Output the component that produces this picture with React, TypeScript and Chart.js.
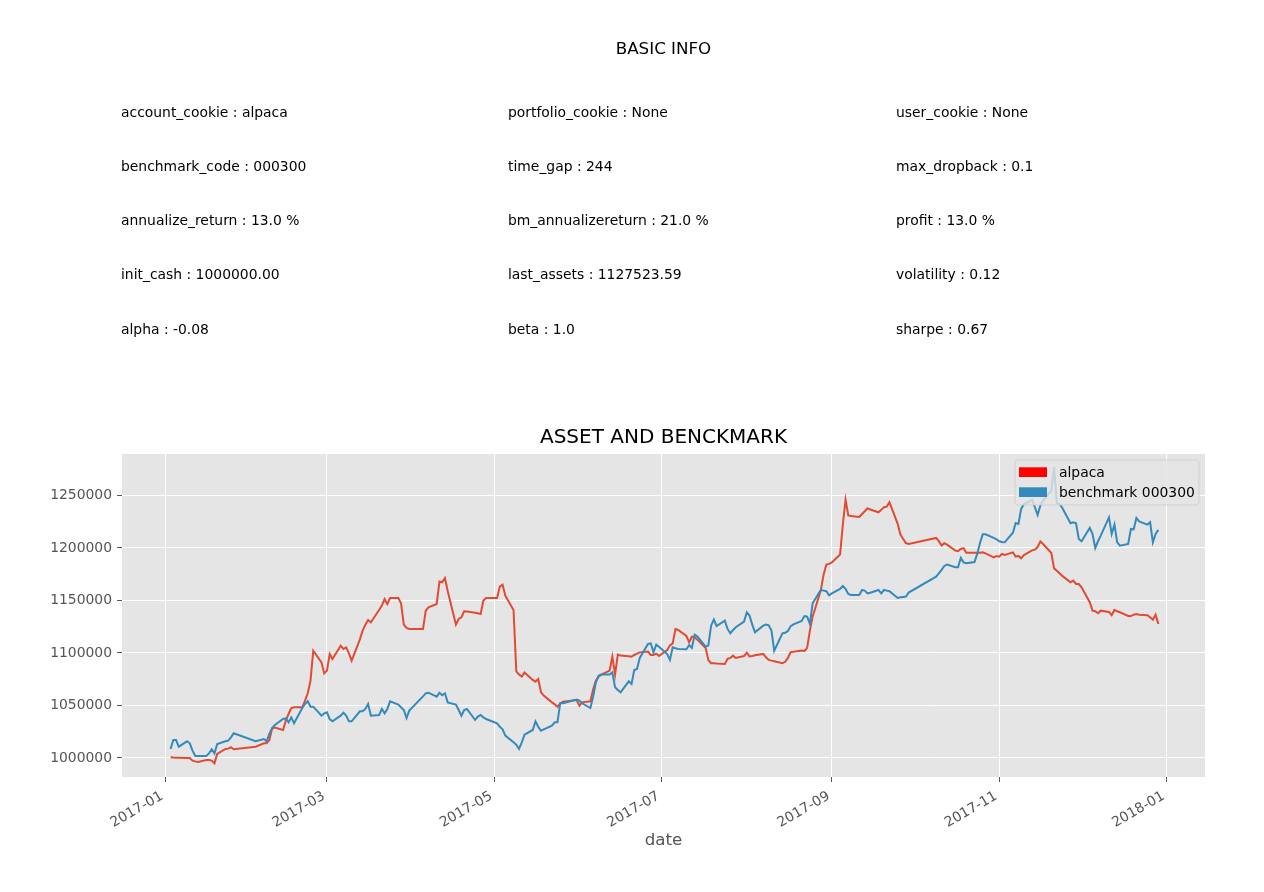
import React, { useEffect, useRef } from 'react';
import { Chart, registerables } from 'chart.js';

Chart.register(...registerables);

// ---------- DATA ----------
const tradeDates: string[] = [
  // Jan
  '2017-01-03','2017-01-04','2017-01-05','2017-01-06','2017-01-09','2017-01-10','2017-01-11','2017-01-12','2017-01-13',
  '2017-01-16','2017-01-17','2017-01-18','2017-01-19','2017-01-20','2017-01-23','2017-01-24','2017-01-25','2017-01-26',
  // Feb
  '2017-02-03','2017-02-06','2017-02-07','2017-02-08','2017-02-09','2017-02-10','2017-02-13','2017-02-14','2017-02-15',
  '2017-02-16','2017-02-17','2017-02-20','2017-02-21','2017-02-22','2017-02-23','2017-02-24','2017-02-27','2017-02-28',
  // Mar
  '2017-03-01','2017-03-02','2017-03-03','2017-03-06','2017-03-07','2017-03-08','2017-03-09','2017-03-10','2017-03-13',
  '2017-03-14','2017-03-15','2017-03-16','2017-03-17','2017-03-20','2017-03-21','2017-03-22','2017-03-23','2017-03-24',
  '2017-03-27','2017-03-28','2017-03-29','2017-03-30','2017-03-31',
  // Apr
  '2017-04-05','2017-04-06','2017-04-07','2017-04-10','2017-04-11','2017-04-12','2017-04-13','2017-04-14','2017-04-17',
  '2017-04-18','2017-04-19','2017-04-20','2017-04-21','2017-04-24','2017-04-25','2017-04-26','2017-04-27','2017-04-28',
  // May
  '2017-05-02','2017-05-03','2017-05-04','2017-05-05','2017-05-08','2017-05-09','2017-05-10','2017-05-11','2017-05-12',
  '2017-05-15','2017-05-16','2017-05-17','2017-05-18','2017-05-19','2017-05-22','2017-05-23','2017-05-24','2017-05-25',
  '2017-05-26','2017-05-31',
  // Jun
  '2017-06-01','2017-06-02','2017-06-05','2017-06-06','2017-06-07','2017-06-08','2017-06-09','2017-06-12','2017-06-13',
  '2017-06-14','2017-06-15','2017-06-16','2017-06-19','2017-06-20','2017-06-21','2017-06-22','2017-06-23','2017-06-26',
  '2017-06-27','2017-06-28','2017-06-29','2017-06-30',
  // Jul
  '2017-07-03','2017-07-04','2017-07-05','2017-07-06','2017-07-07','2017-07-10','2017-07-11','2017-07-12','2017-07-13',
  '2017-07-14','2017-07-17','2017-07-18','2017-07-19','2017-07-20','2017-07-21','2017-07-24','2017-07-25','2017-07-26',
  '2017-07-27','2017-07-28','2017-07-31',
  // Aug
  '2017-08-01','2017-08-02','2017-08-03','2017-08-04','2017-08-07','2017-08-08','2017-08-09','2017-08-10','2017-08-11',
  '2017-08-14','2017-08-15','2017-08-16','2017-08-17','2017-08-18','2017-08-21','2017-08-22','2017-08-23','2017-08-24',
  '2017-08-25','2017-08-28','2017-08-29','2017-08-30','2017-08-31',
  // Sep
  '2017-09-01','2017-09-04','2017-09-05','2017-09-06','2017-09-07','2017-09-08','2017-09-11','2017-09-12','2017-09-13',
  '2017-09-14','2017-09-15','2017-09-18','2017-09-19','2017-09-20','2017-09-21','2017-09-22','2017-09-25','2017-09-26',
  '2017-09-27','2017-09-28','2017-09-29',
  // Oct
  '2017-10-09','2017-10-10','2017-10-11','2017-10-12','2017-10-13','2017-10-16','2017-10-17','2017-10-18','2017-10-19',
  '2017-10-20','2017-10-23','2017-10-24','2017-10-25','2017-10-26','2017-10-27','2017-10-30','2017-10-31',
  // Nov
  '2017-11-01','2017-11-02','2017-11-03','2017-11-06','2017-11-07','2017-11-08','2017-11-09','2017-11-10','2017-11-13',
  '2017-11-14','2017-11-15','2017-11-16','2017-11-17','2017-11-20','2017-11-21','2017-11-22','2017-11-23','2017-11-24',
  '2017-11-27','2017-11-28','2017-11-29','2017-11-30',
  // Dec
  '2017-12-01','2017-12-04','2017-12-05','2017-12-06','2017-12-07','2017-12-08','2017-12-11','2017-12-12','2017-12-13',
  '2017-12-14','2017-12-15','2017-12-18','2017-12-19','2017-12-20','2017-12-21','2017-12-22','2017-12-25','2017-12-26',
  '2017-12-27','2017-12-28','2017-12-29',
];

const alpacaValues: number[] = [
  // Jan
  1000600, 1000400, 1000300, 1000300, 1000000, 1000000, 997500, 996800, 996200,
  998100, 998100, 997500, 994900, 1003800, 1008600, 1008900, 1010200, 1008300,
  // Feb
  1010800, 1014000, 1014000, 1017100, 1028000, 1029000, 1026700, 1035600, 1041900,
  1047600, 1048300, 1048300, 1054600, 1061600, 1073700, 1102200, 1091100, 1080600,
  // Mar
  1083200, 1099100, 1094300, 1107000, 1103800, 1105400, 1099700, 1092700, 1113000,
  1121300, 1127000, 1131400, 1129200, 1141000, 1145100, 1151400, 1146700, 1152400,
  1152400, 1147300, 1127000, 1123800, 1122800,
  // Apr
  1122800, 1140300, 1143500, 1146700, 1168000, 1167300, 1171400, 1159000, 1127000,
  1132400, 1134000, 1139700, 1139400, 1138400, 1137800, 1137200, 1149900, 1152400,
  // May
  1152400, 1163200, 1165100, 1154600, 1141000, 1082500, 1079400, 1077500, 1081300,
  1074300, 1072700, 1075300, 1062600, 1059400, 1053000, 1051100, 1048800, 1052000,
  1053700, 1055200,
  // Jun
  1049800, 1053000, 1054000, 1065100, 1073700, 1077500, 1079400, 1083200, 1096500,
  1079400, 1098400, 1097500, 1096800, 1096500, 1098100, 1099400, 1100600, 1101300,
  1098100, 1098100, 1099400, 1097100,
  // Jul
  1102900, 1107300, 1109200, 1122800, 1121900, 1116200, 1110200, 1115600, 1114900,
  1112700, 1104800, 1093400, 1090300, 1090300, 1090000, 1089600, 1094400, 1095300,
  1097500, 1095300, 1097100,
  // Aug
  1100300, 1096800, 1097100, 1097800, 1099100, 1095900, 1093400, 1092700, 1092100,
  1090300, 1091600, 1095300, 1100800, 1101100, 1102400, 1101800, 1104900, 1121300,
  1134600, 1160000, 1174600, 1184100, 1184800,
  // Sep
  1186300, 1193700, 1222000, 1246000, 1231000, 1230500, 1229500, 1232400, 1235000,
  1237800, 1236600, 1234000, 1236300, 1238800, 1239400, 1243600, 1223000, 1212800,
  1208600, 1204600, 1203800,
  // Oct
  1209600, 1206500, 1202300, 1204500, 1203200, 1197500, 1196900, 1199100, 1199800,
  1195500, 1195500, 1195500, 1195500, 1195800, 1194900, 1191100, 1192400,
  // Nov
  1191700, 1194300, 1193300, 1195800, 1191700, 1192400, 1190200, 1193300, 1197700,
  1198400, 1200900, 1206300, 1203800, 1195200, 1180600, 1178400, 1175900, 1173400,
  1167300, 1168900, 1165700, 1165700,
  // Dec
  1162600, 1148300, 1140300, 1139700, 1137800, 1140300, 1139100, 1135900, 1141000,
  1139700, 1138800, 1135200, 1135200, 1136500, 1137200, 1136500, 1135900, 1134000,
  1131700, 1136500, 1127600,
];

const benchmarkValues: number[] = [
  // Jan
  1008600, 1017100, 1017100, 1010800, 1015900, 1014000, 1007000, 1001900, 1001900,
  1001900, 1004400, 1008300, 1004400, 1013300, 1015900, 1016500, 1019700, 1023500,
  // Feb
  1015900, 1018100, 1015900, 1022900, 1028600, 1031400, 1037100, 1037800, 1034000,
  1038700, 1033000, 1047600, 1051400, 1054000, 1048900, 1048900, 1040300, 1042500,
  // Mar
  1043500, 1037100, 1034900, 1040300, 1043200, 1040300, 1034900, 1034900, 1044400,
  1044400, 1046700, 1051400, 1040300, 1041000, 1046700, 1042500, 1046700, 1054000,
  1050800, 1048300, 1045700, 1038100, 1045100,
  // Apr
  1058700, 1061600, 1062200, 1058400, 1062200, 1059700, 1061600, 1053000, 1050800,
  1045700, 1040300, 1045700, 1046700, 1036200, 1039400, 1041000, 1038700, 1037100,
  // May
  1033000, 1029800, 1027300, 1021300, 1014900, 1012700, 1008600, 1014900, 1022200,
  1026700, 1034900, 1029800, 1026000, 1027300, 1030800, 1034000, 1034000, 1052100,
  1052100, 1055600,
  // Jun
  1054600, 1052100, 1047600, 1058400, 1072100, 1078400, 1079400, 1079400, 1081600,
  1067300, 1064800, 1062600, 1073000, 1070500, 1083800, 1084800, 1095300, 1108600,
  1109200, 1100600, 1108000, 1106000,
  // Jul
  1099000, 1093400, 1105400, 1104500, 1103800, 1103500, 1107600, 1104800, 1117500,
  1115600, 1106000, 1107300, 1126000, 1131800, 1125700, 1130800, 1122900, 1118800,
  1121900, 1124500, 1129900,
  // Aug
  1138700, 1135600, 1127000, 1119700, 1126000, 1127000, 1126400, 1121300, 1102200,
  1118700, 1119300, 1121000, 1125600, 1127300, 1130500, 1135200, 1134600, 1127700,
  1147300, 1160000, 1159400, 1158800, 1154900,
  // Sep
  1156800, 1161000, 1163800, 1161000, 1156200, 1155300, 1155300, 1160000, 1159400,
  1156800, 1157400, 1160000, 1156800, 1160000, 1159400, 1158800, 1152400, 1153000,
  1153400, 1153700, 1157500,
  // Oct
  1172700, 1175900, 1179100, 1182900, 1184200, 1181600, 1181600, 1190500, 1186300,
  1185400, 1186600, 1194600, 1204800, 1213000, 1213000, 1209600, 1208300,
  // Nov
  1206400, 1205700, 1205400, 1214600, 1223800, 1222900, 1237200, 1241900, 1245700,
  1238800, 1231500, 1240400, 1245100, 1254600, 1276900, 1242600, 1241900, 1238100,
  1223500, 1224500, 1223500, 1208600,
  // Dec
  1206400, 1219100, 1213400, 1200000, 1206400, 1211800, 1229200, 1213400, 1222300,
  1205400, 1202200, 1203800, 1218100, 1217800, 1228600, 1225400, 1222300, 1224500,
  1205400, 1213400, 1217200,
];

const seriesNames: string[] = ['alpaca', 'benchmark 000300'];
const xTickDates: string[] = ['2017-01-01', '2017-03-01', '2017-05-01', '2017-07-01', '2017-09-01', '2017-11-01', '2018-01-01'];
const yTickValues: number[] = [1000000, 1050000, 1100000, 1150000, 1200000, 1250000];

const infoColumn1: string[] = ['account_cookie : alpaca', 'benchmark_code : 000300', 'annualize_return : 13.0 %', 'init_cash : 1000000.00', 'alpha : -0.08'];
const infoColumn2: string[] = ['portfolio_cookie : None', 'time_gap : 244', 'bm_annualizereturn : 21.0 %', 'last_assets : 1127523.59', 'beta : 1.0'];
const infoColumn3: string[] = ['user_cookie : None', 'max_dropback : 0.1', 'profit : 13.0 %', 'volatility : 0.12', 'sharpe : 0.67'];

const headerTitle = 'BASIC INFO';
const chartTitle = 'ASSET AND BENCKMARK';
const xAxisTitle = 'date';

// ---------- STYLE ----------
const FONT = "'DejaVu Sans', 'Liberation Sans', sans-serif";
const RED = '#E24A33';
const BLUE = '#348ABD';
const LEGEND_COLORS = ['#FF0000', '#348ABD'];
const DAY = 86400000;

const toPoints = (vals: number[]) =>
  vals.slice(0, tradeDates.length).map((v, i) => ({ x: Date.parse(tradeDates[i]), y: v }));

const fmtMonth = (v: number) => {
  const d = new Date(v);
  return `${d.getUTCFullYear()}-${String(d.getUTCMonth() + 1).padStart(2, '0')}`;
};

const legendPlugin = {
  id: 'mplLegend',
  afterDraw(chart: any) {
    const ctx = chart.ctx as CanvasRenderingContext2D;
    const area = chart.chartArea;
    const w = 184;
    const h = 45;
    const x0 = area.right - 6 - w;
    const y0 = area.top + 6;
    ctx.save();
    const r = 3;
    ctx.beginPath();
    ctx.moveTo(x0 + r, y0);
    ctx.lineTo(x0 + w - r, y0);
    ctx.quadraticCurveTo(x0 + w, y0, x0 + w, y0 + r);
    ctx.lineTo(x0 + w, y0 + h - r);
    ctx.quadraticCurveTo(x0 + w, y0 + h, x0 + w - r, y0 + h);
    ctx.lineTo(x0 + r, y0 + h);
    ctx.quadraticCurveTo(x0, y0 + h, x0, y0 + h - r);
    ctx.lineTo(x0, y0 + r);
    ctx.quadraticCurveTo(x0, y0, x0 + r, y0);
    ctx.closePath();
    ctx.fillStyle = 'rgba(229,229,229,0.8)';
    ctx.fill();
    ctx.strokeStyle = 'rgba(204,204,204,0.8)';
    ctx.lineWidth = 1;
    ctx.stroke();
    ctx.font = `13.9px ${FONT}`;
    ctx.textBaseline = 'alphabetic';
    ctx.textAlign = 'left';
    seriesNames.forEach((name, i) => {
      const py = y0 + 7.3 + i * 20;
      ctx.fillStyle = LEGEND_COLORS[i];
      ctx.fillRect(x0 + 4, py, 28, 9.7);
      ctx.fillStyle = '#000000';
      ctx.fillText(name, x0 + 44, y0 + 16.5 + i * 20);
    });
    ctx.restore();
  },
};

export default function App() {
  const canvasRef = useRef<HTMLCanvasElement | null>(null);

  useEffect(() => {
    const canvas = canvasRef.current;
    if (!canvas) return;
    Chart.defaults.font.family = FONT;
    const jan1 = Date.parse('2017-01-01');
    const xMin = jan1 - 15.7 * DAY;
    const xMax = jan1 + 379.0 * DAY;

    const chart = new Chart(canvas, {
      type: 'line',
      data: {
        datasets: [
          {
            label: seriesNames[0],
            data: toPoints(alpacaValues),
            borderColor: RED,
            backgroundColor: RED,
            borderWidth: 2,
            pointRadius: 0,
            tension: 0,
            order: 1,
          },
          {
            label: seriesNames[1],
            data: toPoints(benchmarkValues),
            borderColor: BLUE,
            backgroundColor: BLUE,
            borderWidth: 2,
            pointRadius: 0,
            tension: 0,
            order: 0,
          },
        ],
      },
      options: {
        animation: false,
        responsive: false,
        devicePixelRatio: 1,
        parsing: false as any,
        normalized: true,
        layout: { padding: { top: 426, right: 59, bottom: 0, left: 0 } },
        plugins: {
          legend: { display: false },
          tooltip: { enabled: false },
          title: {
            display: true,
            text: chartTitle,
            fullSize: false,
            color: '#000000',
            font: { size: 20, family: FONT, weight: 'normal' as any },
            padding: { top: 0, bottom: 4 },
          },
        },
        scales: {
          x: {
            type: 'linear',
            min: xMin,
            max: xMax,
            bounds: 'data',
            afterBuildTicks: (scale: any) => {
              scale.ticks = xTickDates.map((d) => ({ value: Date.parse(d) }));
            },
            afterFit: (scale: any) => {
              scale.height = 115;
            },
            grid: { color: '#FFFFFF', lineWidth: 1, tickColor: '#555555', tickLength: 5, tickWidth: 1, drawTicks: true },
            border: { display: false },
            ticks: {
              autoSkip: false,
              maxRotation: 30,
              minRotation: 30,
              padding: 6,
              labelOffset: -3,
              color: '#555555',
              font: { size: 13.9, family: FONT },
              callback: (v: any) => fmtMonth(Number(v)),
            },
            title: {
              display: true,
              text: xAxisTitle,
              color: '#555555',
              font: { size: 16.7, family: FONT },
              padding: { top: 0, bottom: 41 },
            },
          },
          y: {
            type: 'linear',
            min: 981900,
            max: 1289500,
            bounds: 'data',
            afterBuildTicks: (scale: any) => {
              scale.ticks = yTickValues.map((v) => ({ value: v }));
            },
            afterFit: (scale: any) => {
              scale.width = 122;
            },
            grid: { color: '#FFFFFF', lineWidth: 1, tickColor: '#555555', tickLength: 5, tickWidth: 1, drawTicks: true },
            border: { display: false },
            ticks: {
              padding: 5,
              color: '#555555',
              font: { size: 13.9, family: FONT },
              callback: (v: any) => String(v),
            },
          },
        },
      },
      plugins: [
        {
          id: 'plotBg',
          beforeDraw(c: any) {
            const { ctx, chartArea } = c;
            ctx.save();
            ctx.fillStyle = '#E5E5E5';
            ctx.fillRect(chartArea.left, chartArea.top, chartArea.right - chartArea.left, chartArea.bottom - chartArea.top);
            ctx.restore();
          },
        },
        legendPlugin,
      ],
    } as any);

    return () => chart.destroy();
  }, []);

  const colX = [121, 508, 896];
  const rowBaseline = (i: number) => 116.5 + i * 54.2;
  const textStyle = (left: number, baseline: number): React.CSSProperties => ({
    position: 'absolute',
    left,
    top: baseline - 11.8,
    fontFamily: FONT,
    fontSize: '13.9px',
    lineHeight: '14px',
    whiteSpace: 'nowrap',
    color: '#000000',
  });

  return (
    <div style={{ position: 'absolute', left: 0, top: 0, width: 1264, height: 892, background: '#FFFFFF', overflow: 'hidden' }}>
      <canvas ref={canvasRef} width={1264} height={892} style={{ position: 'absolute', left: 0, top: 0, width: 1264, height: 892 }} />
      <div
        style={{
          position: 'absolute',
          left: 663.5 - 150,
          width: 300,
          top: 54 - 14.2,
          textAlign: 'center',
          fontFamily: FONT,
          fontSize: '16.7px',
          lineHeight: '17px',
          whiteSpace: 'nowrap',
          color: '#000000',
        }}
      >
        {headerTitle}
      </div>
      {[infoColumn1, infoColumn2, infoColumn3].map((col, ci) =>
        col.map((txt, ri) => (
          <div key={`${ci}-${ri}`} style={textStyle(colX[ci], rowBaseline(ri))}>
            {txt}
          </div>
        ))
      )}
    </div>
  );
}
